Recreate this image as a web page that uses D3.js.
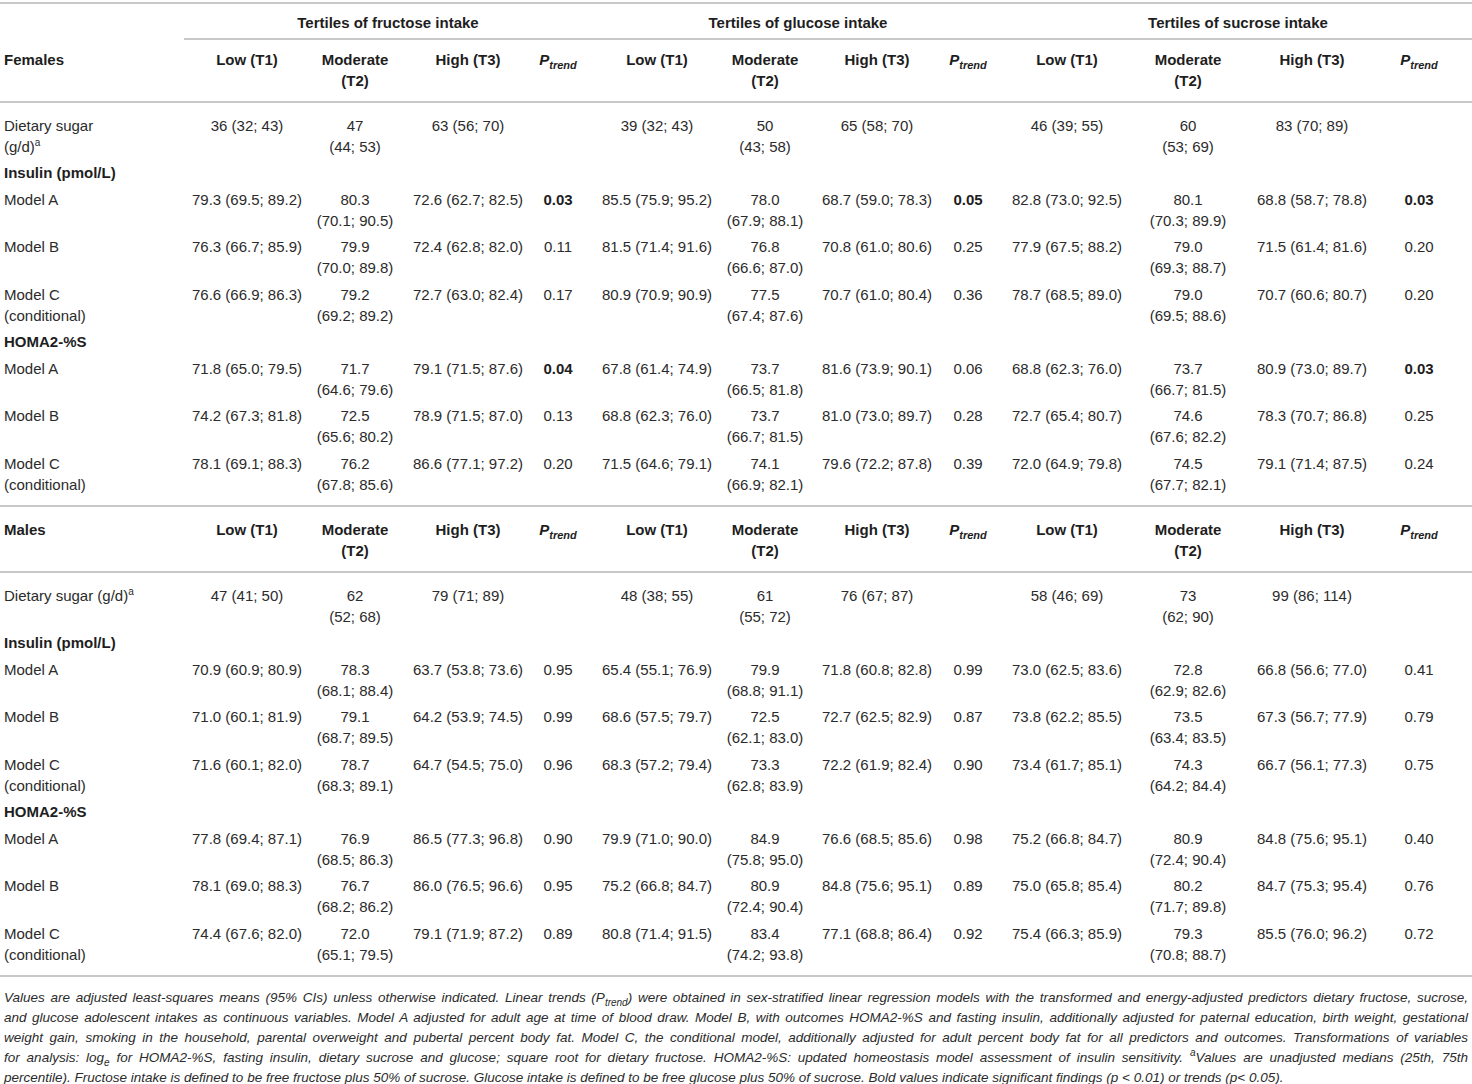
<!DOCTYPE html>
<html>
<head>
<meta charset="utf-8">
<script src="https://cdn.jsdelivr.net/npm/d3@7"></script>
<style>
  body { margin: 0; background: #fff; }
  text { font-family: "Liberation Sans", Arial, sans-serif; font-size: 15px; fill: #2b2b2b; }
  .bold { font-weight: bold; fill: #1e1e1e; }
  .foot { font-style: italic; font-size: 13.5px; }
  .rule { stroke: #c8c8c8; stroke-width: 2; }
</style>
</head>
<body>
<div id="table"></div>
<script>
// ---- data ----
var groups = ["Tertiles of fructose intake", "Tertiles of glucose intake", "Tertiles of sucrose intake"];
var tertiles = [["Low (T1)"], ["Moderate", "(T2)"], ["High (T3)"]];
var modelLabels = [["Model A"], ["Model B"], ["Model C", "(conditional)"]];

// each row: 9 triples [mean, low, high] -> fructose T1..T3, glucose T1..T3, sucrose T1..T3
var femaleSugar = [[36,32,43],[47,44,53],[63,56,70],[39,32,43],[50,43,58],[65,58,70],[46,39,55],[60,53,69],[83,70,89]];
var femaleInsulin = [
  [[79.3,69.5,89.2],[80.3,70.1,90.5],[72.6,62.7,82.5],[85.5,75.9,95.2],[78.0,67.9,88.1],[68.7,59.0,78.3],[82.8,73.0,92.5],[80.1,70.3,89.9],[68.8,58.7,78.8]],
  [[76.3,66.7,85.9],[79.9,70.0,89.8],[72.4,62.8,82.0],[81.5,71.4,91.6],[76.8,66.6,87.0],[70.8,61.0,80.6],[77.9,67.5,88.2],[79.0,69.3,88.7],[71.5,61.4,81.6]],
  [[76.6,66.9,86.3],[79.2,69.2,89.2],[72.7,63.0,82.4],[80.9,70.9,90.9],[77.5,67.4,87.6],[70.7,61.0,80.4],[78.7,68.5,89.0],[79.0,69.5,88.6],[70.7,60.6,80.7]]
];
var femaleInsulinP = [[0.03,0.05,0.03],[0.11,0.25,0.20],[0.17,0.36,0.20]];
var femaleHoma = [
  [[71.8,65.0,79.5],[71.7,64.6,79.6],[79.1,71.5,87.6],[67.8,61.4,74.9],[73.7,66.5,81.8],[81.6,73.9,90.1],[68.8,62.3,76.0],[73.7,66.7,81.5],[80.9,73.0,89.7]],
  [[74.2,67.3,81.8],[72.5,65.6,80.2],[78.9,71.5,87.0],[68.8,62.3,76.0],[73.7,66.7,81.5],[81.0,73.0,89.7],[72.7,65.4,80.7],[74.6,67.6,82.2],[78.3,70.7,86.8]],
  [[78.1,69.1,88.3],[76.2,67.8,85.6],[86.6,77.1,97.2],[71.5,64.6,79.1],[74.1,66.9,82.1],[79.6,72.2,87.8],[72.0,64.9,79.8],[74.5,67.7,82.1],[79.1,71.4,87.5]]
];
var femaleHomaP = [[0.04,0.06,0.03],[0.13,0.28,0.25],[0.20,0.39,0.24]];

var maleSugar = [[47,41,50],[62,52,68],[79,71,89],[48,38,55],[61,55,72],[76,67,87],[58,46,69],[73,62,90],[99,86,114]];
var maleInsulin = [
  [[70.9,60.9,80.9],[78.3,68.1,88.4],[63.7,53.8,73.6],[65.4,55.1,76.9],[79.9,68.8,91.1],[71.8,60.8,82.8],[73.0,62.5,83.6],[72.8,62.9,82.6],[66.8,56.6,77.0]],
  [[71.0,60.1,81.9],[79.1,68.7,89.5],[64.2,53.9,74.5],[68.6,57.5,79.7],[72.5,62.1,83.0],[72.7,62.5,82.9],[73.8,62.2,85.5],[73.5,63.4,83.5],[67.3,56.7,77.9]],
  [[71.6,60.1,82.0],[78.7,68.3,89.1],[64.7,54.5,75.0],[68.3,57.2,79.4],[73.3,62.8,83.9],[72.2,61.9,82.4],[73.4,61.7,85.1],[74.3,64.2,84.4],[66.7,56.1,77.3]]
];
var maleInsulinP = [[0.95,0.99,0.41],[0.99,0.87,0.79],[0.96,0.90,0.75]];
var maleHoma = [
  [[77.8,69.4,87.1],[76.9,68.5,86.3],[86.5,77.3,96.8],[79.9,71.0,90.0],[84.9,75.8,95.0],[76.6,68.5,85.6],[75.2,66.8,84.7],[80.9,72.4,90.4],[84.8,75.6,95.1]],
  [[78.1,69.0,88.3],[76.7,68.2,86.2],[86.0,76.5,96.6],[75.2,66.8,84.7],[80.9,72.4,90.4],[84.8,75.6,95.1],[75.0,65.8,85.4],[80.2,71.7,89.8],[84.7,75.3,95.4]],
  [[74.4,67.6,82.0],[72.0,65.1,79.5],[79.1,71.9,87.2],[80.8,71.4,91.5],[83.4,74.2,93.8],[77.1,68.8,86.4],[75.4,66.3,85.9],[79.3,70.8,88.7],[85.5,76.0,96.2]]
];
var maleHomaP = [[0.90,0.98,0.40],[0.95,0.89,0.76],[0.89,0.92,0.72]];

var footLines = [
  [{t: "Values are adjusted least-squares means (95% CIs) unless otherwise indicated. Linear trends (P"}, {t: "trend", sub: true}, {t: ") were obtained in sex-stratified linear regression models with the transformed and energy-adjusted predictors dietary fructose, sucrose,"}],
  [{t: "and glucose adolescent intakes as continuous variables. Model A adjusted for adult age at time of blood draw. Model B, with outcomes HOMA2-%S and fasting insulin, additionally adjusted for paternal education, birth weight, gestational"}],
  [{t: "weight gain, smoking in the household, parental overweight and pubertal percent body fat. Model C, the conditional model, additionally adjusted for adult percent body fat for all predictors and outcomes. Transformations of variables"}],
  [{t: "for analysis: log"}, {t: "e", sub: true}, {t: " for HOMA2-%S, fasting insulin, dietary sucrose and glucose; square root for dietary fructose. HOMA2-%S: updated homeostasis model assessment of insulin sensitivity. "}, {t: "a", sup: true}, {t: "Values are unadjusted medians (25th, 75th"}],
  [{t: "percentile). Fructose intake is defined to be free fructose plus 50% of sucrose. Glucose intake is defined to be free glucose plus 50% of sucrose. Bold values indicate significant findings (p < 0.01) or trends (p< 0.05)."}]
];

// ---- layout ----
var width = 1472, height = 1084;
var lineH = 21;
var labelX = 4;

var colX = d3.scaleOrdinal()
  .domain(d3.range(12))
  .range([247, 355, 468, 558, 657, 765, 877, 968, 1067, 1188, 1312, 1419]);
var groupX = d3.scaleOrdinal()
  .domain(groups)
  .range([388, 798, 1238]);

var fmt1 = d3.format(".1f"), fmt0 = d3.format("d"), fmtP = d3.format(".2f");

var svg = d3.select("#table").append("svg")
  .attr("width", width)
  .attr("height", height);

function addRuns(sel, runs) {
  var shift = 0;
  runs.forEach(function(r) {
    var ts = sel.append("tspan").text(r.t);
    var target = r.sup ? -6 : (r.sub ? 4 : 0);
    if (target !== shift) { ts.attr("dy", target - shift); shift = target; }
    if (r.sup || r.sub) ts.style("font-size", r.small || "10px");
  });
}

function cellLines(v, t, fmt) {
  var m = fmt(v[0]), ci = "(" + fmt(v[1]) + "; " + fmt(v[2]) + ")";
  return t === 1 ? [m, ci] : [m + " " + ci];
}

function buildSection(sex, sugarLabel, sugar, insulin, insulinP, homa, homaP) {
  var rows = [];
  rows.push({type: "head", label: [[{t: sex}]]});
  rows.push({type: "rule"});
  rows.push({type: "data", label: sugarLabel, cells: sugar.map(function(v, i) { return cellLines(v, i % 3, fmt0); })});
  rows.push({type: "data", bold: true, label: [[{t: "Insulin (pmol/L)"}]], cells: []});
  insulin.forEach(function(m, k) {
    rows.push({type: "data", label: modelLabels[k].map(function(s) { return [{t: s}]; }),
      cells: m.map(function(v, i) { return cellLines(v, i % 3, fmt1); }), p: insulinP[k]});
  });
  rows.push({type: "data", bold: true, label: [[{t: "HOMA2-%S"}]], cells: []});
  homa.forEach(function(m, k) {
    rows.push({type: "data", label: modelLabels[k].map(function(s) { return [{t: s}]; }),
      cells: m.map(function(v, i) { return cellLines(v, i % 3, fmt1); }), p: homaP[k]});
  });
  rows.push({type: "rule"});
  return rows;
}

var rows = buildSection("Females",
    [[{t: "Dietary sugar"}], [{t: "(g/d)"}, {t: "a", sup: true}]],
    femaleSugar, femaleInsulin, femaleInsulinP, femaleHoma, femaleHomaP)
  .concat(buildSection("Males",
    [[{t: "Dietary sugar (g/d)"}, {t: "a", sup: true}]],
    maleSugar, maleInsulin, maleInsulinP, maleHoma, maleHomaP));

// rules at top and under group headers
svg.append("line").attr("class", "rule").attr("x1", 0).attr("x2", width).attr("y1", 3).attr("y2", 3);
svg.append("line").attr("class", "rule").attr("x1", 184).attr("x2", width).attr("y1", 39).attr("y2", 39);

svg.selectAll("text.group")
  .data(groups)
  .enter().append("text")
    .attr("class", "group bold")
    .attr("x", function(d) { return groupX(d); })
    .attr("y", 23)
    .attr("dy", "0.35em")
    .attr("text-anchor", "middle")
    .text(function(d) { return d; });

var g = svg.append("g");
var y = 59.5, lastBottom = y;

rows.forEach(function(row) {
  if (row.type === "rule") {
    var ry = lastBottom + 21.5;
    g.append("line").attr("class", "rule").attr("x1", 0).attr("x2", width).attr("y1", ry).attr("y2", ry);
    y = ry + 23.5;
    return;
  }
  var nLines = 1;

  // row label
  row.label.forEach(function(runs, i) {
    var t = g.append("text")
      .attr("class", (row.type === "head" || row.bold) ? "bold" : null)
      .attr("x", labelX)
      .attr("y", y + i * lineH)
      .attr("dy", "0.35em");
    addRuns(t, runs);
  });
  nLines = Math.max(nLines, row.label.length);

  if (row.type === "head") {
    d3.range(12).forEach(function(c) {
      var k = c % 4;
      if (k === 3) {
        var t = g.append("text").attr("class", "bold")
          .attr("x", colX(c)).attr("y", y).attr("dy", "0.35em")
          .attr("text-anchor", "middle")
          .style("font-style", "italic");
        addRuns(t, [{t: "P"}, {t: "trend", sub: true, small: "11px"}]);
      } else {
        tertiles[k].forEach(function(s, i) {
          g.append("text").attr("class", "bold")
            .attr("x", colX(c)).attr("y", y + i * lineH).attr("dy", "0.35em")
            .attr("text-anchor", "middle")
            .text(s);
        });
        nLines = Math.max(nLines, tertiles[k].length);
      }
    });
  } else {
    row.cells.forEach(function(lines, i) {
      var c = Math.floor(i / 3) * 4 + (i % 3);
      g.selectAll(null)
        .data(lines)
        .enter().append("text")
          .attr("x", colX(c))
          .attr("y", function(d, j) { return y + j * lineH; })
          .attr("dy", "0.35em")
          .attr("text-anchor", "middle")
          .text(function(d) { return d; });
      nLines = Math.max(nLines, lines.length);
    });
    if (row.p) {
      g.selectAll(null)
        .data(row.p)
        .enter().append("text")
          .attr("class", function(d) { return d <= 0.05 ? "bold" : null; })
          .attr("x", function(d, i) { return colX(i * 4 + 3); })
          .attr("y", y)
          .attr("dy", "0.35em")
          .attr("text-anchor", "middle")
          .text(function(d) { return fmtP(d); });
    }
  }
  lastBottom = y + (nLines - 1) * lineH;
  y = y + nLines * lineH + 5.5;
});

// footnote, justified except for the last line
var foot = svg.append("g");
footLines.forEach(function(runs, i) {
  var t = foot.append("text")
    .attr("class", "foot")
    .attr("x", labelX)
    .attr("y", 997 + i * 20)
    .attr("dy", "0.35em");
  addRuns(t, runs);
  if (i < footLines.length - 1) {
    var w = t.node().getComputedTextLength();
    var spaces = runs.map(function(r) { return r.t; }).join("").split(" ").length - 1;
    t.style("word-spacing", ((1468 - labelX - w) / spaces) + "px");
  }
});
</script>
</body>
</html>
